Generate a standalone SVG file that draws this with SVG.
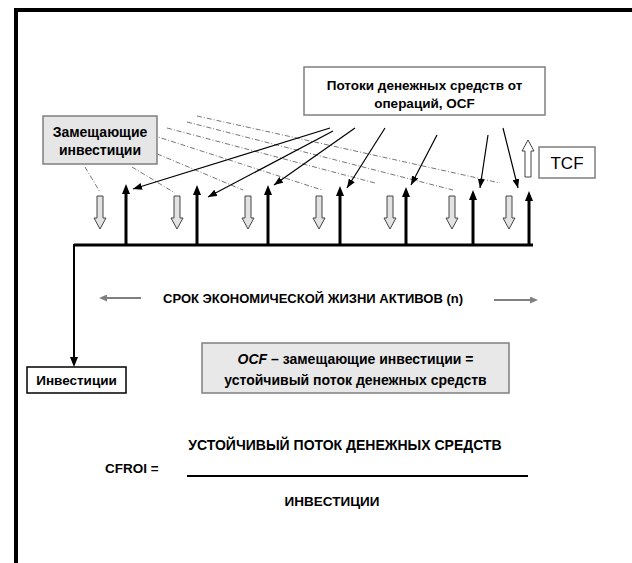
<svg xmlns="http://www.w3.org/2000/svg" width="632" height="563" viewBox="0 0 632 563">
<style>
text{font-family:"Liberation Sans",Arial,sans-serif;font-weight:bold;fill:#000}
.box{stroke:#7f7f7f;stroke-width:1.5}
.dash{stroke:#666;stroke-width:0.9;fill:none;stroke-dasharray:5 2 1 2}
.thin{stroke:#000;stroke-width:1.2;fill:none;marker-end:url(#ah)}
.up{stroke:#000;stroke-width:3;fill:none;marker-end:url(#uh)}
.hol{fill:#e2e2e2;stroke:#444;stroke-width:1}
.gray{stroke:#808080;stroke-width:2;fill:none;marker-end:url(#gh)}
</style>
<defs>
<marker id="ah" markerUnits="userSpaceOnUse" markerWidth="9" markerHeight="7" refX="9" refY="3.5" orient="auto"><path d="M0,0 L9,3.5 L0,7 z" fill="#000"/></marker>
<marker id="uh" markerUnits="userSpaceOnUse" markerWidth="10" markerHeight="8" refX="0" refY="4" orient="auto"><path d="M0,0 L10,4 L0,8 z" fill="#000"/></marker>
<marker id="gh" markerUnits="userSpaceOnUse" markerWidth="8" markerHeight="7" refX="1" refY="3.5" orient="auto"><path d="M0,0 L8,3.5 L0,7 z" fill="#808080"/></marker>
<path id="dn" d="M-3,0 H3 V22 H6 L0,33 L-6,22 H-3 Z"/>
</defs>
<g id="frame">
<path d="M16,563 V10 H632" fill="none" stroke="#000" stroke-width="4"/>
</g>
<g id="connectors">
<path d="M74,245 H533" stroke="#000" stroke-width="3" fill="none"/>
<path d="M74,244 V357" stroke="#000" stroke-width="2" fill="none" marker-end="url(#uh)"/>
<line class="up" x1="126" y1="245" x2="126" y2="194"/>
<line class="up" x1="197" y1="245" x2="197" y2="195"/>
<line class="up" x1="268" y1="245" x2="268" y2="195"/>
<line class="up" x1="340" y1="245" x2="340" y2="196"/>
<line class="up" x1="406" y1="245" x2="406" y2="197"/>
<line class="up" x1="473" y1="245" x2="473" y2="200"/>
<line class="up" x1="529" y1="245" x2="529" y2="201"/>
<line class="dash" x1="85" y1="167" x2="100" y2="192"/>
<line class="dash" x1="132" y1="167" x2="175" y2="193"/>
<line class="dash" x1="148" y1="150" x2="243" y2="190"/>
<line class="dash" x1="152" y1="135" x2="322" y2="190"/>
<line class="dash" x1="167" y1="128" x2="375" y2="183"/>
<line class="dash" x1="187" y1="122" x2="453" y2="190"/>
<line class="dash" x1="197" y1="116" x2="500" y2="183"/>
<line class="thin" x1="330" y1="128" x2="133" y2="189"/>
<line class="thin" x1="333" y1="131" x2="208" y2="197"/>
<line class="thin" x1="355" y1="128" x2="274" y2="185"/>
<line class="thin" x1="385" y1="128" x2="347" y2="188"/>
<line class="thin" x1="437" y1="135" x2="411" y2="185"/>
<line class="thin" x1="488" y1="135" x2="480" y2="188"/>
<line class="thin" x1="503" y1="128" x2="518" y2="188"/>
<use href="#dn" class="hol" x="100" y="196"/>
<use href="#dn" class="hol" x="177" y="196"/>
<use href="#dn" class="hol" x="248" y="196"/>
<use href="#dn" class="hol" x="319" y="196"/>
<use href="#dn" class="hol" x="390" y="196"/>
<use href="#dn" class="hol" x="452" y="196"/>
<use href="#dn" class="hol" x="509" y="196"/>
<path d="M525,177 V151 H522 L528,140 L534,151 H531 V177 Z" fill="#fff" stroke="#444" stroke-width="1"/>
<line class="gray" x1="141" y1="298" x2="106" y2="298"/>
<line class="gray" x1="494" y1="300" x2="531" y2="300"/>
<line x1="187" y1="476" x2="528" y2="476" stroke="#000" stroke-width="2"/>
</g>
<g id="ocf">
<rect class="box" x="304" y="67" width="241" height="48" fill="#fff"/>
<text x="424.5" y="90" font-size="13.5" text-anchor="middle">Потоки денежных средств от</text>
<text x="424.5" y="108" font-size="13.5" text-anchor="middle">операций, OCF</text>
</g>
<g id="replacement">
<rect class="box" x="43" y="116" width="114" height="48" fill="#e6e6e6"/>
<text x="100" y="137" font-size="14" text-anchor="middle">Замещающие</text>
<text x="100" y="155" font-size="14" text-anchor="middle">инвестиции</text>
</g>
<g id="tcf">
<rect class="box" x="539" y="147" width="56" height="31" fill="#fff"/>
<text x="567" y="169" font-size="17" font-weight="normal" style="font-weight:normal" text-anchor="middle">TCF</text>
</g>
<g id="life">
<text x="313" y="303" font-size="13" text-anchor="middle">СРОК ЭКОНОМИЧЕСКОЙ ЖИЗНИ АКТИВОВ (n)</text>
</g>
<g id="sustainable">
<rect class="box" x="202" y="343" width="307" height="50" fill="#e8e8e8"/>
<text x="355.5" y="364" font-size="14" text-anchor="middle"><tspan font-style="italic">OCF</tspan> – замещающие инвестиции =</text>
<text x="355.5" y="385" font-size="14" text-anchor="middle">устойчивый поток денежных средств</text>
</g>
<g id="investment">
<rect x="27" y="367" width="99" height="26" fill="#fff" stroke="#000" stroke-width="1.5"/>
<text x="76.5" y="385" font-size="13.5" text-anchor="middle">Инвестиции</text>
</g>
<g id="formula">
<text x="105" y="473" font-size="13.5">CFROI =</text>
<text x="345" y="450" font-size="14" text-anchor="middle">УСТОЙЧИВЫЙ ПОТОК ДЕНЕЖНЫХ СРЕДСТВ</text>
<text x="332" y="506" font-size="13.5" text-anchor="middle">ИНВЕСТИЦИИ</text>
</g>
</svg>
